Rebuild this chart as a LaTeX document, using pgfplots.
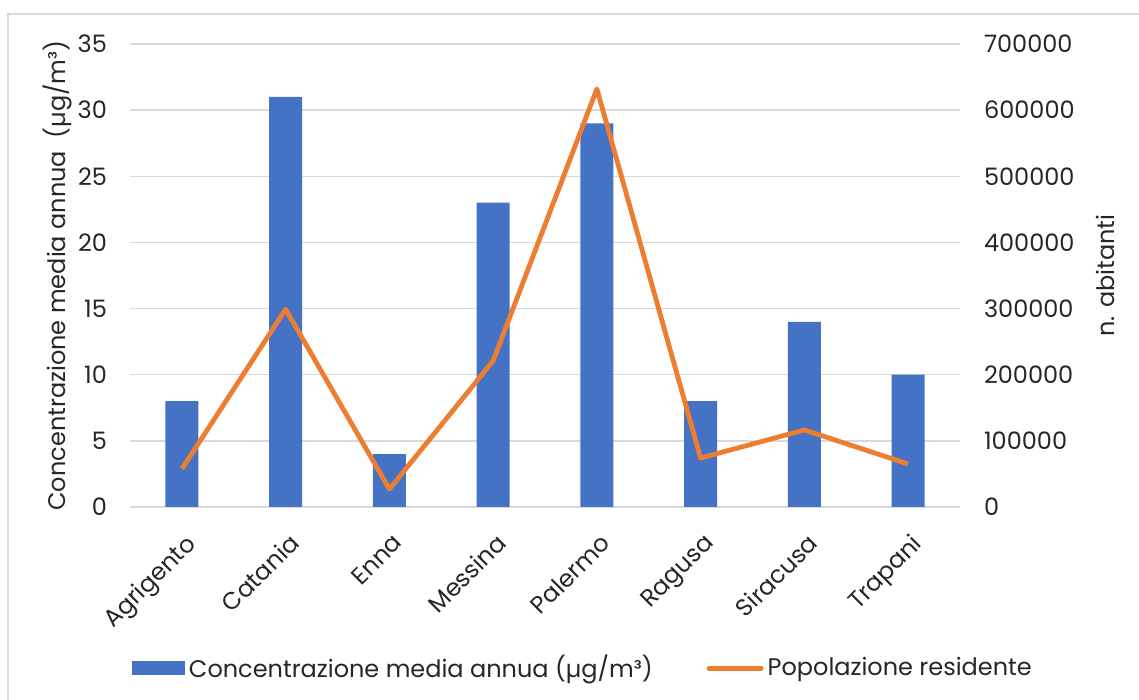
\documentclass[border=0pt]{standalone}
\usepackage{pgfplots}
\pgfplotsset{compat=1.18}
\usepackage{fontspec}
\setmainfont{Poppins}
\definecolor{barblue}{HTML}{4472C4}
\definecolor{lineorange}{HTML}{ED7D31}
\definecolor{gridgray}{HTML}{D9D9D9}
\definecolor{txt}{HTML}{262626}

% 1 px of the reference = 0.5pt
\begin{document}
\begin{tikzpicture}[font=\fontsize{12}{14}\selectfont, text=txt]
\useasboundingbox (0,0) rectangle (569.5pt,350pt);
\begin{scope}
\clip (0,0) rectangle (569.5pt,350pt);
\draw[gridgray, line width=0.7pt] (4pt,-10pt) rectangle (600pt,343pt);
\end{scope}

\pgfplotsset{
  base/.style={
    at={(65pt,96.5pt)}, anchor=south west,
    scale only axis, width=415pt, height=231.5pt,
    xmin=-0.5, xmax=7.5,
    ymin=0,
    axis line style={draw=none},
    major tick length=0pt,
    /pgf/number format/assume math mode=true,
    /pgf/number format/fixed,
    /pgf/number format/precision=0,
    /pgf/number format/1000 sep={},
    scaled y ticks=false,
    tick label style={font=\fontsize{12}{14}\selectfont, text=txt},
    label style={font=\fontsize{12}{14}\selectfont, text=txt},
  }
}

\begin{axis}[base,
  ymax=35, ytick={0,5,...,35},
  ymajorgrids, grid style={gridgray, line width=0.7pt},
  xtick={0,...,7},
  xticklabels={Agrigento,Catania,Enna,Messina,Palermo,Ragusa,Siracusa,Trapani},
  xticklabel style={rotate=45, anchor=north east, inner sep=0pt, yshift=-9.5pt, xshift=-8pt},
  yticklabel style={anchor=east, xshift=-8pt},
  ytick pos=left, xtick pos=bottom,
  ylabel={Concentrazione media annua\ \ (µg/m³)},
  ylabel style={at={(axis description cs:-0.088,0.5)}, anchor=center, rotate=0},
  ybar, bar width=16.5pt, bar shift=0pt,
]
\addplot[draw=none, fill=barblue] coordinates {
  (0,8) (1,31) (2,4) (3,23) (4,29) (5,8) (6,14) (7,10)
};
\end{axis}

\begin{axis}[base,
  ymax=700000, ytick={0,100000,200000,300000,400000,500000,600000,700000},
  xtick=\empty,
  ytick pos=right,
  yticklabel style={anchor=west, xshift=8.5pt},
  ylabel={n. abitanti},
  ylabel style={at={(axis description cs:1.175,0.5)}, anchor=center, rotate=0},
  legend columns=2,
  legend style={at={(axis description cs:0.547,-0.348)}, anchor=center,
    draw=none, fill=none, font=\fontsize{12}{14}\selectfont,
    /tikz/every even column/.append style={column sep=25pt},
    inner sep=0pt},
]
\addlegendimage{legend image code/.code={\fill[barblue] (0pt,-3.2pt) rectangle (26pt,3.3pt);}}
\addlegendentry{Concentrazione media annua (µg/m³)}
\addplot[lineorange, line width=2.4pt, line join=round,
  legend image code/.code={\draw[lineorange, line width=2.5pt, line cap=round] (0pt,0pt) -- (26pt,0pt);}]
  coordinates {
  (0,57500) (1,299000) (2,27000) (3,221000) (4,632000) (5,74000) (6,116500) (7,65000)
};
\addlegendentry{Popolazione residente}
\end{axis}
\end{tikzpicture}
\end{document}
